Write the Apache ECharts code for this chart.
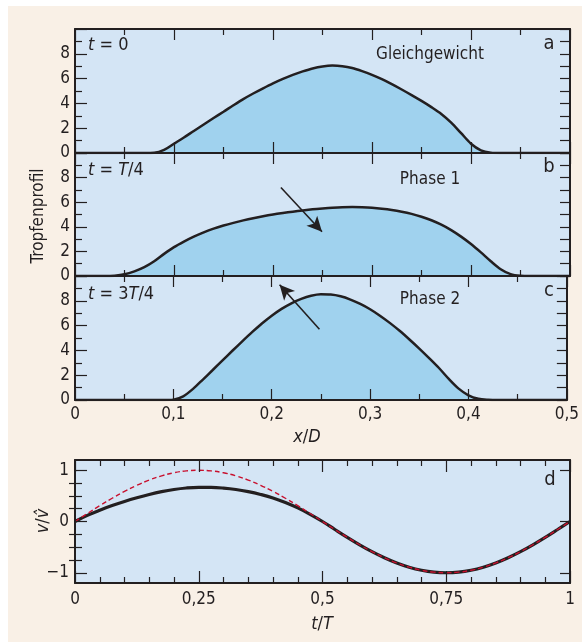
<!DOCTYPE html>
<html><head><meta charset="utf-8">
<script src="https://cdn.jsdelivr.net/npm/echarts@6/dist/echarts.min.js"></script>
<style>html,body{margin:0;padding:0;background:#fff}#c{width:582px;height:642px}</style>
</head><body><div id="c"></div>
<script>
// ---- data ----
const xProfile = [0, 0.01, 0.02, 0.03, 0.04, 0.05, 0.06, 0.07, 0.08, 0.09, 0.1, 0.11, 0.12, 0.13, 0.14, 0.15, 0.16, 0.17, 0.18, 0.19,
                  0.2, 0.21, 0.22, 0.23, 0.24, 0.25, 0.26, 0.27, 0.28, 0.29, 0.3, 0.31, 0.32, 0.33, 0.34, 0.35, 0.36, 0.37, 0.38, 0.39,
                  0.4, 0.41, 0.42, 0.43, 0.44, 0.45, 0.46, 0.47, 0.48, 0.49, 0.5];
const yA = [0, 0, 0, 0, 0, 0, 0, 0, 0.02, 0.25, 0.75, 1.25, 1.78, 2.3, 2.82, 3.33, 3.85, 4.35, 4.8, 5.22,
            5.62, 5.98, 6.3, 6.58, 6.82, 6.98, 7.05, 7.0, 6.85, 6.6, 6.3, 5.95, 5.55, 5.12, 4.67, 4.2, 3.7, 3.15, 2.45, 1.6,
            0.75, 0.22, 0.03, 0, 0, 0, 0, 0, 0, 0, 0];
const yB = [0, 0, 0, 0, 0.03, 0.14, 0.38, 0.72, 1.2, 1.8, 2.35, 2.8, 3.2, 3.55, 3.85, 4.1, 4.32, 4.52, 4.7, 4.86,
            5.0, 5.12, 5.23, 5.33, 5.42, 5.49, 5.55, 5.59, 5.6, 5.58, 5.54, 5.47, 5.37, 5.23, 5.05, 4.82, 4.53, 4.17, 3.73, 3.2,
            2.6, 1.92, 1.2, 0.55, 0.15, 0.02, 0, 0, 0, 0, 0];
const yC = [0, 0, 0, 0, 0, 0, 0, 0, 0, 0, 0.03, 0.3, 0.9, 1.65, 2.42, 3.2, 3.97, 4.73, 5.47, 6.17,
            6.8, 7.35, 7.8, 8.15, 8.4, 8.52, 8.5, 8.36, 8.1, 7.75, 7.32, 6.8, 6.22, 5.58, 4.88, 4.15, 3.38, 2.58, 1.7, 0.92,
            0.38, 0.1, 0.02, 0, 0, 0, 0, 0, 0, 0, 0];
const tD = [0, 0.025, 0.05, 0.075, 0.1, 0.125, 0.15, 0.175, 0.2, 0.225, 0.25, 0.275, 0.3, 0.325, 0.35, 0.375, 0.4, 0.425, 0.45, 0.475, 0.5,
            0.525, 0.55, 0.575, 0.6, 0.625, 0.65, 0.675, 0.7, 0.725, 0.75, 0.775, 0.8, 0.825, 0.85, 0.875, 0.9, 0.925, 0.95, 0.975, 1];
const vBlack = [0, 0.12, 0.22, 0.31, 0.39, 0.462, 0.527, 0.582, 0.625, 0.654, 0.667, 0.666, 0.652, 0.625, 0.583, 0.528, 0.46, 0.37, 0.265, 0.14, 0.0,
                -0.156, -0.309, -0.454, -0.588, -0.707, -0.809, -0.891, -0.951, -0.988, -1, -0.988, -0.951, -0.891, -0.809, -0.707, -0.588, -0.454, -0.309, -0.156, 0];
const vRed = [0, 0.156, 0.309, 0.454, 0.588, 0.707, 0.809, 0.891, 0.951, 0.988, 1, 0.988, 0.951, 0.891, 0.809, 0.707, 0.588, 0.454, 0.309, 0.156, 0,
              -0.156, -0.309, -0.454, -0.588, -0.707, -0.809, -0.891, -0.951, -0.988, -1, -0.988, -0.951, -0.891, -0.809, -0.707, -0.588, -0.454, -0.309, -0.156, 0];
const xTicksProfile = [0, 0.1, 0.2, 0.3, 0.4, 0.5];
const yTicksProfile = [0, 2, 4, 6, 8];
const tTicks = [0, 0.25, 0.5, 0.75, 1];
const vTicks = [-1, 0, 1];
const arrowB = [[0.208, 7.2], [0.2495, 3.6]];
const arrowC = [[0.2485, 5.7], [0.208, 9.3]];

// ---- style ----
const INK = '#231f20';
const FONT = '"Liberation Sans Narrow", "DejaVu Sans Condensed", sans-serif';
const PLOT_BG = '#d4e5f5';
const FILL = '#a0d2ee';
const L = 75, W = 495;
const grids = [
  {left: L, top: 29, width: W, height: 124},
  {left: L, top: 153, width: W, height: 123},
  {left: L, top: 276, width: W, height: 124},
  {left: L, top: 460, width: W, height: 123}
];
const comma = v => String(v).replace('.', ',');
const lineS = {color: INK, width: 2};
const tickS = {color: INK, width: 1.2};

const xAxes = [], yAxes = [];
const xIdx = [], yIdx = [];
for (let i = 0; i < 3; i++) {
  xIdx.push(xAxes.length);
  ['bottom', 'top'].forEach(pos => xAxes.push({
    gridIndex: i, type: 'value', position: pos, min: 0, max: 0.5, interval: 0.1, z: 10,
    axisLine: {show: true, onZero: false, lineStyle: lineS},
    axisTick: {show: true, inside: true, length: 11, lineStyle: tickS},
    minorTick: {show: true, splitNumber: 2, length: 6, lineStyle: tickS},
    splitLine: {show: false}, minorSplitLine: {show: false},
    axisLabel: {show: pos === 'bottom' && i === 2, color: INK, fontFamily: FONT, fontSize: 17, margin: 6,
      customValues: xTicksProfile, formatter: comma}
  }));
  yIdx.push(yAxes.length);
  yAxes.push({
    gridIndex: i, type: 'value', position: 'left', min: 0, max: 10, interval: 2, z: 10,
    axisLine: {show: true, onZero: false, lineStyle: lineS},
    axisTick: {show: true, inside: true, length: 12, lineStyle: tickS},
    minorTick: {show: true, splitNumber: 2, length: 7, lineStyle: tickS},
    splitLine: {show: false}, minorSplitLine: {show: false},
    axisLabel: {show: true, color: INK, fontFamily: FONT, fontSize: 17, margin: 5,
      customValues: yTicksProfile}
  });
  yAxes.push({
    gridIndex: i, type: 'value', position: 'right', min: 0, max: 10, interval: 1, z: 10,
    axisLine: {show: true, onZero: false, lineStyle: lineS},
    axisTick: {show: true, inside: true, length: 10, lineStyle: tickS},
    splitLine: {show: false}, axisLabel: {show: false}
  });
}
// panel d
xIdx.push(xAxes.length);
['bottom', 'top'].forEach(pos => xAxes.push({
  gridIndex: 3, type: 'value', position: pos, min: 0, max: 1, interval: 0.25, z: 10,
  axisLine: {show: true, onZero: false, lineStyle: lineS},
  axisTick: {show: true, inside: true, length: 12, lineStyle: tickS},
  minorTick: {show: true, splitNumber: 5, length: 6, lineStyle: tickS},
  splitLine: {show: false}, minorSplitLine: {show: false},
  axisLabel: {show: pos === 'bottom', color: INK, fontFamily: FONT, fontSize: 17, margin: 8,
    customValues: tTicks, formatter: comma}
}));
yIdx.push(yAxes.length);
const minorQ = [-0.75, -0.5, -0.25, 0.25, 0.5, 0.75];
yAxes.push({
  gridIndex: 3, type: 'value', position: 'left', min: -1.2, max: 1.2, z: 10,
  axisLine: {show: true, onZero: false, lineStyle: lineS},
  axisTick: {show: true, inside: true, length: 12, lineStyle: tickS, customValues: vTicks},
  splitLine: {show: false},
  axisLabel: {show: true, color: INK, fontFamily: FONT, fontSize: 17, margin: 6,
    customValues: vTicks, formatter: v => v < 0 ? '\u2212' + Math.abs(v) : String(v)}
});
yAxes.push({
  gridIndex: 3, type: 'value', position: 'left', min: -1.2, max: 1.2, z: 10,
  axisLine: {show: false},
  axisTick: {show: true, inside: true, length: 7, lineStyle: tickS, customValues: minorQ},
  splitLine: {show: false}, axisLabel: {show: false}
});
yAxes.push({
  gridIndex: 3, type: 'value', position: 'right', min: -1.2, max: 1.2, z: 10,
  axisLine: {show: true, onZero: false, lineStyle: lineS},
  axisTick: {show: true, inside: true, length: 10, lineStyle: tickS, customValues: vTicks},
  splitLine: {show: false}, axisLabel: {show: false}
});
yAxes.push({
  gridIndex: 3, type: 'value', position: 'right', min: -1.2, max: 1.2, z: 10,
  axisLine: {show: false},
  axisTick: {show: true, inside: true, length: 6, lineStyle: tickS, customValues: minorQ},
  splitLine: {show: false}, axisLabel: {show: false}
});

const pairs = (xs, ys) => xs.map((x, k) => [x, ys[k]]);
const arrowLine = (pts) => ({
  silent: true, symbol: ['none', 'arrow'], symbolSize: [11, 15],
  lineStyle: {color: INK, width: 1.6, type: 'solid'}, label: {show: false},
  data: [[{coord: pts[0]}, {coord: pts[1]}]]
});
const profile = (i, ys, arrow) => ({
  type: 'line', xAxisIndex: xIdx[i], yAxisIndex: yIdx[i], data: pairs(xProfile, ys),
  smooth: 0.3, showSymbol: false, symbol: 'none', z: 3,
  lineStyle: {color: INK, width: 2.5}, areaStyle: {color: FILL, opacity: 1},
  markLine: arrow ? arrowLine(arrow) : undefined
});

const series = [
  profile(0, yA),
  profile(1, yB, arrowB),
  profile(2, yC, arrowC),
  {type: 'line', xAxisIndex: xIdx[3], yAxisIndex: yIdx[3], data: pairs(tD, vBlack), smooth: 0.4,
   showSymbol: false, symbol: 'none', z: 3, lineStyle: {color: INK, width: 3.2}},
  {type: 'line', xAxisIndex: xIdx[3], yAxisIndex: yIdx[3], data: pairs(tD, vRed), smooth: 0.4,
   showSymbol: false, symbol: 'none', z: 4, lineStyle: {color: '#c8102e', width: 1.4, type: [5, 3]}}
];

const rich = {
  i: {fontStyle: 'italic', fontFamily: FONT, fontSize: 18, fill: INK},
  n: {fontFamily: FONT, fontSize: 18, fill: INK}
};
const txt = (x, y, text, opts) => Object.assign({
  type: 'text', x: x, y: y, z: 50,
  style: Object.assign({text: text, fill: INK, font: '17px ' + FONT, align: 'left', verticalAlign: 'middle'}, opts || {})
});
const graphic = [
  {type: 'rect', shape: {x: 8, y: 6, width: 574, height: 636}, style: {fill: '#f9f0e6'}, z: -10, silent: true},
  txt(88, 45, '{i|t}{n| = 0}', {rich: rich}),
  txt(88, 170, '{i|t}{n| = }{i|T}{n|/4}', {rich: rich}),
  txt(88, 294, '{i|t}{n| = 3}{i|T}{n|/4}', {rich: rich}),
  txt(430, 55, 'Gleichgewicht', {align: 'center'}),
  txt(430, 180, 'Phase 1', {align: 'center'}),
  txt(430, 300, 'Phase 2', {align: 'center'}),
  txt(549, 44, 'a', {align: 'center', font: '20px ' + FONT}),
  txt(549, 167, 'b', {align: 'center', font: '20px ' + FONT}),
  txt(549, 291, 'c', {align: 'center', font: '20px ' + FONT}),
  txt(550, 480, 'd', {align: 'center', font: '20px ' + FONT}),
  txt(307, 437, '{i|x}{n|/}{i|D}', {align: 'center', rich: rich}),
  txt(322, 624, '{i|t}{n|/}{i|T}', {align: 'center', rich: rich}),
  {type: 'text', x: 39, y: 216, rotation: Math.PI / 2, z: 50,
   style: {text: 'Tropfenprofil', fill: INK, font: '17px ' + FONT, align: 'center', verticalAlign: 'middle'}},
  {type: 'text', x: 43, y: 521, rotation: Math.PI / 2, z: 50,
   style: {text: '{i|v}{n|/}{i|v\u0302}', rich: rich, align: 'center', verticalAlign: 'middle'}}
];

const chart = echarts.init(document.getElementById('c'), null, {renderer: 'canvas'});
chart.setOption({
  backgroundColor: '#ffffff',
  animation: false,
  grid: grids.map(g => Object.assign({show: true, backgroundColor: PLOT_BG, borderWidth: 0, containLabel: false}, g)),
  xAxis: xAxes,
  yAxis: yAxes,
  series: series,
  graphic: graphic
});
</script></body></html>
